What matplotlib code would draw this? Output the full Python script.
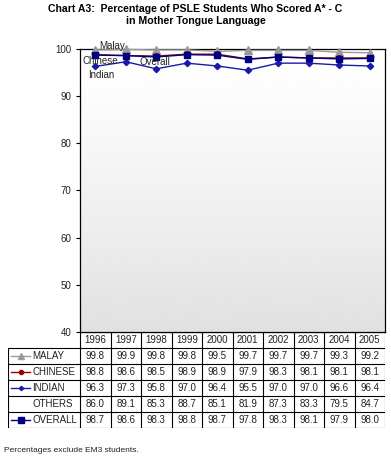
import numpy as np
import matplotlib
matplotlib.use("Agg")
import matplotlib.pyplot as plt

plt.rcParams['font.family'] = ['Liberation Sans', 'DejaVu Sans']

years = ['1996', '1997', '1998', '1999', '2000', '2001', '2002', '2003', '2004', '2005']
malay = [99.8, 99.9, 99.8, 99.8, 99.5, 99.7, 99.7, 99.7, 99.3, 99.2]
chinese = [98.8, 98.6, 98.5, 98.9, 98.9, 97.9, 98.3, 98.1, 98.1, 98.1]
indian = [96.3, 97.3, 95.8, 97.0, 96.4, 95.5, 97.0, 97.0, 96.6, 96.4]
others = [86.0, 89.1, 85.3, 88.7, 85.1, 81.9, 87.3, 83.3, 79.5, 84.7]
overall = [98.7, 98.6, 98.3, 98.8, 98.7, 97.8, 98.3, 98.1, 97.9, 98.0]
row_labels = ['MALAY', 'CHINESE', 'INDIAN', 'OTHERS', 'OVERALL']
yticks = [40, 50, 60, 70, 80, 90, 100]

W, H = 391, 458
fig = plt.figure(figsize=(W / 100, H / 100), dpi=100)

def fx(px):
    return px / W

def fy(py):
    return 1 - py / H

L, R, T, B = 80, 385, 49, 332
ax = fig.add_axes([fx(L), fy(B), fx(R) - fx(L), fy(T) - fy(B)])
x = np.arange(len(years))
ax.set_xlim(-0.5, len(years) - 0.5)
ax.set_ylim(40, 100)
# gradient background: white at top, light gray at bottom
t = np.linspace(0, 1, 256)
grad = (1.0 - 0.12 * t ** 1.2).reshape(-1, 1)
ax.imshow(grad, extent=[-0.5, len(years) - 0.5, 40, 100], aspect='auto',
          cmap='gray', vmin=0, vmax=1, zorder=0, origin='upper', interpolation='bilinear')
ax.set_xticks([])
ax.set_yticks(yticks)
ax.tick_params(axis='y', direction='out', length=3, width=0.8, labelsize=7, pad=3,
               labelcolor='#222222')
for s in ax.spines.values():
    s.set_linewidth(0.9)

styles = {
    'MALAY': dict(color='#999999', marker='^', ms=5.5),
    'CHINESE': dict(color='#990000', marker='o', ms=4),
    'INDIAN': dict(color='#1a1aaa', marker='D', ms=3.2),
    'OVERALL': dict(color='#000080', marker='s', ms=5),
}
ax.plot(x, malay, lw=1, zorder=3, clip_on=False, **styles['MALAY'])
ax.plot(x, chinese, lw=1, zorder=4, clip_on=False, **styles['CHINESE'])
ax.plot(x, indian, lw=1, zorder=4, clip_on=False, **styles['INDIAN'])
ax.plot(x, overall, lw=1, zorder=5, clip_on=False, **styles['OVERALL'])

fig.text(fx(112), fy(46), 'Malay', fontsize=7, ha='center', va='center', color='#222222')
fig.text(fx(100), fy(61), 'Chinese', fontsize=7, ha='center', va='center', color='#222222')
fig.text(fx(101), fy(75), 'Indian', fontsize=7, ha='center', va='center', color='#222222')
fig.text(fx(155), fy(62), 'Overall', fontsize=7, ha='center', va='center', color='#222222')

# title
fig.text(0.5, fy(15), 'Chart A3:  Percentage of PSLE Students Who Scored A* - C\nin Mother Tongue Language',
         fontsize=7.6, fontweight='bold', ha='center', va='center', linespacing=1.15)

# table
TL, TB = 8, 428
tab = fig.add_axes([fx(TL), fy(TB), fx(R) - fx(TL), fy(B) - fy(TB)])
colw = (R - L) / len(years)
labw = (L - TL) / colw
tab.set_xlim(-0.5 - labw, len(years) - 0.5)
tab.set_ylim(0, 6)
tab.axis('off')
lw = 0.8
xl = -0.5 - labw
xr = len(years) - 0.5
tab.plot([-0.5, xr], [6, 6], color='k', lw=lw)
for yy in range(0, 6):
    tab.plot([xl, xr], [yy, yy], color='k', lw=lw)
tab.plot([xl, xl], [0, 5], color='k', lw=lw)
for i in range(len(years) + 1):
    tab.plot([i - 0.5, i - 0.5], [0, 6], color='k', lw=lw)
for i, yv in enumerate(years):
    tab.text(i, 5.5, yv, fontsize=7, ha='center', va='center', color='#222222')
data = [malay, chinese, indian, others, overall]
for r, (lab, vals) in enumerate(zip(row_labels, data)):
    yc = 4.5 - r
    for i, v in enumerate(vals):
        tab.text(i, yc, f'{v:.1f}', fontsize=7, ha='center', va='center', color='#222222')
    if lab in styles:
        st = styles[lab]
        tab.plot([xl + 0.1, xl + 0.72], [yc, yc], color=st['color'], lw=1)
        tab.plot([xl + 0.41], [yc], color=st['color'], marker=st['marker'],
                 ms=st['ms'] - 1, linestyle='none')
    tab.text(xl + 0.8, yc, lab, fontsize=7, ha='left', va='center', color='#222222')

fig.text(fx(4), fy(450), 'Percentages exclude EM3 students.', fontsize=6, ha='left', va='center',
         color='#222222')

fig.savefig('out.png', dpi=100)
